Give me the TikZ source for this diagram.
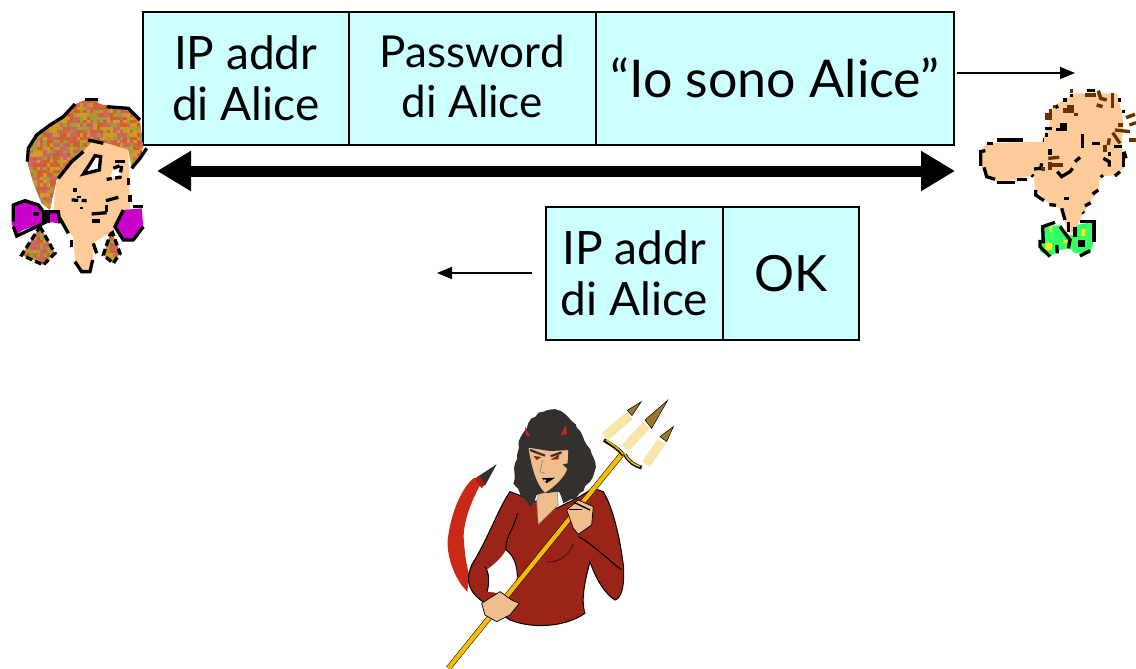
\documentclass[tikz,border=0pt]{standalone}
\usepackage{fontspec}
\setmainfont{Lato}
\usetikzlibrary{arrows.meta,decorations.pathmorphing}
\definecolor{cellc}{HTML}{CCFFFF}
\definecolor{skin}{HTML}{FFCC99}
\definecolor{magentab}{HTML}{CC00CC}
\definecolor{brownh}{HTML}{663300}
\definecolor{greenb}{HTML}{33FF66}
\definecolor{yellowb}{HTML}{FFEE00}
\definecolor{hairA}{HTML}{D06030}
\definecolor{hairB}{HTML}{D09A28}
\definecolor{hairC}{HTML}{A89A38}
\definecolor{hairD}{HTML}{CC6666}
\definecolor{dress}{HTML}{9A2418}
\definecolor{tailc}{HTML}{C92A17}
\definecolor{hairk}{HTML}{33302E}
\definecolor{dskin}{HTML}{F0BE8C}
\definecolor{gold}{HTML}{F2BC00}
\definecolor{cream}{HTML}{F8E6A8}
\definecolor{tipc}{HTML}{9A7A2A}
\newcommand{\hairpixels}[4]{%
 \foreach \i in {#1,...,#2}{\foreach \j in {#3,...,#4}{%
 \pgfmathrandominteger{\c}{0}{3}%
 \ifcase\c\def\cc{hairA}\or\def\cc{hairB}\or\def\cc{hairC}\else\def\cc{hairD}\fi
 \fill[\cc] (10*\i,10*\j) rectangle ++(10.5,10.5);}}}
\tikzset{
  cell/.style={draw=black,line width=1.6pt,fill=cellc,inner sep=0pt,align=center,anchor=north west},
  thinarrow/.style={draw=black,line width=1.2pt,-{Triangle[length=15pt,width=12pt]}},
  bigarrow/.style={draw=black,line width=11pt,{Triangle[length=34pt,width=38pt]}-{Triangle[length=34pt,width=38pt]}},
  ink/.style={draw=black,line width=3.3pt},
  inkd/.style={draw=black,line width=3.3pt,dash pattern=on 6.6pt off 3.3pt},
  zoomed/.style={x=0.3333pt,y=-0.3333pt},
}
\begin{document}
\begin{tikzpicture}[x=1pt,y=-1pt]
\pgfmathsetseed{7}
\useasboundingbox (0,0) rectangle (1136,669);
% ---------- boxes
\node[cell,minimum width=206pt,minimum height=133pt,font=\fontsize{46}{51}\selectfont] (ipa) at (142,11) {IP addr\\di Alice};
\node[cell,minimum width=247pt,minimum height=133pt,font=\fontsize{44}{50}\selectfont] (pwd) at (348,11) {Password\\di Alice\vspace{3pt}};
\node[cell,minimum width=358pt,minimum height=133pt,font=\fontsize{52}{56}\selectfont] (say) at (595,11) {“Io sono Alice”\vspace{6pt}};
\node[cell,minimum width=177pt,minimum height=133pt,font=\fontsize{46}{51}\selectfont] (ipb) at (545,206) {IP addr\\di Alice};
\node[cell,minimum width=136pt,minimum height=133pt,font=\fontsize{50}{56}\selectfont] (ok) at (722,206) {OK\vspace{8pt}};
% ---------- arrows
\coordinate (r0) at (957,73); \coordinate (r1) at (1075,73);
\coordinate (l0) at (532,273); \coordinate (l1) at (437,273);
\coordinate (b0) at (157,171); \coordinate (b1) at (955,171);
\draw[thinarrow] (r0) -- (r1);
\draw[thinarrow] (l0) -- (l1);
\draw[bigarrow] (b0) -- (b1);
% ---------- Alice
\begin{scope}[shift={(0,90)}]
\begin{scope}[zoomed]
% pigtails
\begin{scope}
\clip (120,410)--(165,490)--(130,525)--(65,495)--cycle;
\hairpixels{6}{17}{41}{53}
\end{scope}
\begin{scope}
\clip (335,420)--(360,490)--(340,520)--(310,495)--cycle;
\hairpixels{30}{37}{41}{53}
\end{scope}
\draw[inkd] (120,410)--(165,490)--(130,525)--(65,495)--cycle;
\draw[inkd] (335,420)--(360,490)--(340,520)--(310,495)--cycle;
% face
\fill[skin] (250,170)--(280,150)--(340,165)--(385,180)--(390,350)--(385,370)--(340,420)--(280,460)--(280,520)--(260,550)--(225,520)--(220,440)--(170,390)--(160,360)--(170,270)--cycle;
% hair
\begin{scope}
\clip (255,30)--(295,30)--(295,40)--(330,50)--(385,60)--(420,90)--(430,170)--(420,210)--(395,235)--(385,180)--(340,165)--(280,150)--(245,190)--(170,270)--(150,360)--(125,340)--(100,280)--(80,210)--(85,170)--(110,135)--(150,105)--(185,80)--(220,45)--cycle;
\hairpixels{7}{43}{3}{36}
\end{scope}
\draw[ink] (255,28)--(293,28);
\draw[ink] (225,42)--(190,80)--(150,105)--(110,135)--(85,175)--(82,215);
\draw[ink] (320,50)--(385,55)--(420,90);
\draw[ink] (250,185)--(215,215)--(175,265);
\draw[ink] (265,150)--(310,160);
\draw[ink] (440,175)--(420,205)--(395,235);
% face features
\fill[white] (285,200)--(300,200)--(295,240)--(250,252)--(270,225)--cycle;
\draw[ink] (285,197)--(302,200)--(298,240)--(250,252)--(270,222)--cycle;
\fill[white] (340,235)--(365,225)--(360,260)--(330,265)--cycle;
\draw[ink] (345,215)--(375,215);
\draw[inkd] (340,235)--(365,225)--(360,262)--(320,268);
\draw[ink] (385,265)--(385,285);
\draw[ink] (390,315)--(390,335);
\draw[inkd] (215,330)--(260,332);
\draw[ink] (225,295)--(225,305);
\draw[ink] (237,317)--(237,325);
\draw[ink] (245,350)--(245,358);
\draw[ink] (318,332)--(355,322);
\draw[ink] (275,372)--(320,368);
\draw[ink] (275,393)--(300,393);
\draw[ink] (320,345)--(320,365);
\draw[ink] (215,450)--(215,470);
\draw[ink] (280,460)--(290,490);
\draw[ink] (225,515)--(245,545)--(270,545)--(278,510);
\draw[ink] (180,385)--(205,430);
% bows
\fill[magentab] (40,345)--(70,330)--(115,345)--(130,365)--(150,365)--(175,370)--(175,400)--(140,395)--(115,405)--(70,420)--(45,435)--(35,400)--cycle;
\draw[ink] (40,395)--(40,345)--(75,332)--(115,345)--(130,365)--(175,365)--(180,400);
\draw[ink] (40,410)--(50,438)--(110,410)--(140,395);
\fill[black] (125,365) rectangle (150,400);
\fill[black] (100,365) rectangle (118,378);
\fill[magentab] (370,360)--(425,355)--(430,410)--(405,445)--(370,450)--(345,410)--cycle;
\draw[ink] (400,350)--(428,350);
\draw[ink] (370,360)--(345,410)--(370,450)--(400,450)--(430,410);
\end{scope}
\end{scope}
% ---------- Bob
\begin{scope}[shift={(970,80)}]
\begin{scope}[zoomed]
\fill[skin] (310,40)--(440,40)--(455,95)--(460,130)--(455,200)--(465,260)--(440,285)--(390,290)--(385,330)--(350,380)--(330,420)--(310,460)--(290,455)--(280,390)--(235,370)--(195,325)--(190,285)--(130,300)--(80,305)--(45,285)--(30,245)--(30,215)--(50,190)--(215,185)--(240,130)--(235,100)--(255,75)--(285,60)--cycle;
\fill[greenb] (215,440)--(275,435)--(290,465)--(315,465)--(320,435)--(370,425)--(370,490)--(360,520)--(315,520)--(300,505)--(270,510)--(240,530)--(210,515)--cycle;
\fill[yellowb] (225,490) rectangle (245,510);
\fill[yellowb] (332,447) rectangle (345,468);
\fill[yellowb] (237,437) rectangle (246,455);
\fill[yellowb] (280,480) rectangle (292,490);
\fill[black] (325,480) rectangle (345,500);
\draw[ink] (220,490)--(218,440)--(255,427);
\draw[ink] (210,480)--(210,500)--(240,530);
\draw[ink] (260,495)--(262,520);
\draw[ink] (270,440)--(300,480)--(295,505);
\draw[ink] (315,440)--(315,470);
\draw[ink] (330,425)--(372,425)--(372,485);
\draw[ink] (360,512)--(330,528);
\draw[ink] (295,425)--(295,455);
% outline
\draw[ink] (80,180)--(158,180);
\draw[ink] (50,190)--(70,190);
\draw[line width=3.3pt] (46,212)--(32,215)--(32,258);
\draw[ink] (42,262)--(50,290)--(75,298);
\draw[ink] (82,308)--(136,308);
\draw[ink] (140,298)--(170,298);
\draw[ink] (185,285)--(190,290);
\draw[ink] (197,330)--(197,345)--(222,362);
\draw[ink] (238,374)--(258,376);
\draw[ink] (275,385)--(285,420);
\draw[ink] (338,396)--(342,400);
\draw[ink] (345,378)--(362,368);
\draw[ink] (368,342)--(385,330);
\draw[ink] (393,285)--(398,292);
\draw[ink] (435,288)--(450,275);
\draw[line width=3.5pt] (462,215)--(468,235);
\draw[ink] (460,215)--(460,260);
\draw[ink] (460,90)--(460,98);
\draw[ink] (445,60)--(452,60);
\draw[ink] (280,60)--(290,60);
\draw[ink] (258,75)--(262,85);
\draw[ink] (225,145)--(245,145);
\draw[ink] (225,165)--(235,165);
\draw[ink] (218,180)--(222,180);
\draw[line width=3.5pt] (258,148)--(290,148);
\fill (270,128) rectangle (290,148);
\draw[ink] (338,162)--(338,205);
\draw[ink] (365,190)--(390,190);
\draw[ink] (240,208)--(240,225);
\draw[ink] (215,250)--(212,265)--(192,267);
\draw[ink] (262,275)--(275,290)--(300,275)--(308,265);
\draw[ink] (315,245)--(330,232);
\draw[ink] (282,355)--(298,355);
\draw[ink] (400,235)--(418,245)--(418,260);
\draw[ink] (415,222)--(422,222);
\draw[ink] (433,200)--(455,200);
% brown
\draw[brownh,line width=3.3pt] (305,28)--(305,38);
\draw[black,line width=3.3pt] (305,42)--(305,52);
\draw[black,line width=3.3pt] (350,32)--(375,32);
\fill[brownh] (345,40) rectangle (378,52);
\draw[brownh,line width=3.5pt] (385,32)--(392,55)--(410,60);
\draw[brownh,line width=3.5pt] (380,75)--(398,80);
\draw[brownh,line width=3pt] (428,40)--(428,85);
\fill[brownh] (280,85) rectangle (312,98);
\fill[brownh] (292,75) rectangle (312,85);
\fill[brownh] (312,98) rectangle (324,107);
\fill[brownh] (248,75) rectangle (258,85);
\fill[brownh] (225,100) rectangle (247,120);
\fill[brownh] (237,88) rectangle (247,100);
\draw[brownh,line width=3.3pt] (235,235)--(268,232);
\draw[brownh,line width=3.3pt] (242,255)--(278,255);
\draw[brownh,line width=3.3pt] (240,245)--(240,270);
\fill[brownh] (213,262) rectangle (224,272);
\draw[brownh,line width=3.5pt] (468,113)--(495,103);
\draw[brownh,line width=3.3pt] (478,135)--(498,128);
\draw[brownh,line width=3.3pt] (445,135)--(460,135);
\draw[brownh,line width=3.3pt] (435,150)--(480,155);
\draw[brownh,line width=3.3pt] (428,158)--(450,190);
\draw[brownh,line width=3.3pt] (478,180)--(497,180);
\draw[brownh,line width=3.3pt] (418,175)--(415,195);
\draw[brownh,line width=3.6pt] (405,195)--(405,215);
\end{scope}
\end{scope}
% ---------- devil
\begin{scope}[shift={(430,395)}]
\begin{scope}[zoomed]
% tail
\fill[tailc] (130,250)--(165,245) .. controls (125,310) and (95,390) .. (102,440) .. controls (105,490) and (112,520) .. (118,540)--(112,590) .. controls (70,550) and (45,470) .. (55,420) .. controls (65,350) and (95,280) .. (130,250)--cycle;
\fill[hairk] (140,247)--(200,208)--(165,272)--cycle;
\fill[tailc!80!black] (135,250)--(150,243)--(165,268)--(155,280)--cycle;
% body
\fill[dress,draw=black,line width=1pt] (240,290) .. controls (205,340) and (175,430) .. (125,510) .. controls (105,560) and (115,590) .. (165,625) -- (240,675) .. controls (300,700) and (400,700) .. (465,655) .. controls (450,610) and (470,540) .. (480,500) .. controls (500,560) and (530,600) .. (555,615) .. controls (575,610) and (585,570) .. (580,510) .. controls (570,430) and (550,340) .. (520,290) -- (490,280) -- (440,310) -- (380,340) -- (320,320) --cycle;
% arm opening
\fill[white] (228,465) .. controls (250,480) and (262,510) .. (262,545) .. controls (250,580) and (240,590) .. (235,603) -- (190,592) -- (172,590) .. controls (180,550) and (175,530) .. (170,525) .. controls (190,510) and (215,490) .. (228,465) --cycle;
\draw[black,line width=1pt] (262,355) .. controls (255,400) and (225,420) .. (228,465);
\draw[black,line width=1pt] (172,590) .. controls (180,550) and (175,530) .. (165,515);
\draw[black,line width=1pt] (228,465) .. controls (250,480) and (262,510) .. (262,545);
\draw[black,line width=1pt] (445,425) .. controls (480,440) and (540,500) .. (575,525);
\draw[black!40!dress,line width=1.2pt] (430,445) .. controls (420,480) and (385,505) .. (350,500);
% neck
\fill[dskin,draw=gray,line width=.5pt] (320,315)--(335,280)--(380,270)--(385,330)--(325,388)--cycle;
% hair
\fill[hairk,decorate,decoration={random steps,segment length=5pt,amplitude=1.2pt}] (290,100) .. controls (300,70) and (340,40) .. (375,45) .. controls (420,55) and (450,110) .. (470,150) .. controls (490,170) and (500,210) .. (490,235) .. controls (475,270) and (450,300) .. (435,312) -- (400,325) -- (385,290) -- (345,293) -- (320,300) -- (300,335) -- (280,310) -- (250,265) .. controls (255,210) and (265,180) .. (265,140) --cycle;
% face
\fill[dskin] (295,155)--(360,165)--(415,160)--(412,220) .. controls (405,245) and (375,275) .. (345,293) .. controls (320,270) and (305,220) .. (295,155) --cycle;
\draw[hairk,line width=2.2pt] (300,165)--(345,182);
\draw[hairk,line width=2.2pt] (395,172)--(362,184);
\fill[hairk] (398,208)--(422,203)--(415,225)--cycle;
\fill[hairk] (280,140)--(360,158)--(440,140)--(420,165)--(360,168)--(295,158)--cycle;
\fill[tailc!70!black] (311,183)--(335,186)--(320,195)--cycle;
\fill[tailc!70!black] (362,194)--(388,178)--(385,193)--cycle;
\fill[black] (335,250)--(375,248)--(350,265)--cycle;
\fill[white] (340,254)--(348,254)--(346,260)--cycle;
\draw[gray,line width=.6pt] (338,195)--(330,230)--(345,235);
% horns
\fill[tailc] (285,95)--(300,125)--(288,120)--cycle;
\fill[tailc] (408,90)--(410,118)--(392,120)--cycle;
% fork
\draw[black,line width=5.4pt] (55,820)--(575,178);
\draw[gold,line width=4.4pt] (55,820)--(575,178);
\draw[black,line width=3.6pt] (580,180) .. controls (565,160) and (545,150) .. (522,135);
\draw[gold,line width=1.5pt] (580,178) .. controls (565,158) and (545,148) .. (528,135);
\draw[black,line width=3.6pt] (585,178) .. controls (595,200) and (615,212) .. (635,218);
\draw[gold,line width=1.5pt] (585,178) .. controls (595,198) and (615,210) .. (630,215);
\draw[cream,line width=9.5pt] (525,125)--(598,62);
\draw[cream,line width=9.5pt] (585,160)--(650,90);
\draw[cream,line width=9.5pt] (648,208)--(695,140);
\fill[tipc,draw=black,line width=.5pt] (592,46)--(634,20)--(606,62)--cycle;
\fill[tipc,draw=black,line width=.5pt] (645,75)--(713,16)--(665,100)--cycle;
\fill[tipc,draw=black,line width=.5pt] (690,125)--(730,95)--(710,140)--cycle;
% hands
\fill[dskin,draw=black,line width=.7pt] (410,345)--(445,315)--(490,335)--(485,390)--(445,418)--(430,400)--cycle;
\draw[black,line width=1.4pt] (432,322)--(480,345);
\draw[black,line width=1pt] (418,345)--(455,345);
\fill[dskin,draw=black,line width=.7pt] (155,625)--(210,590)--(245,615)--(268,625)--(240,660)--(200,680)--(165,660)--cycle;
\end{scope}
\end{scope}
\end{tikzpicture}
\end{document}
